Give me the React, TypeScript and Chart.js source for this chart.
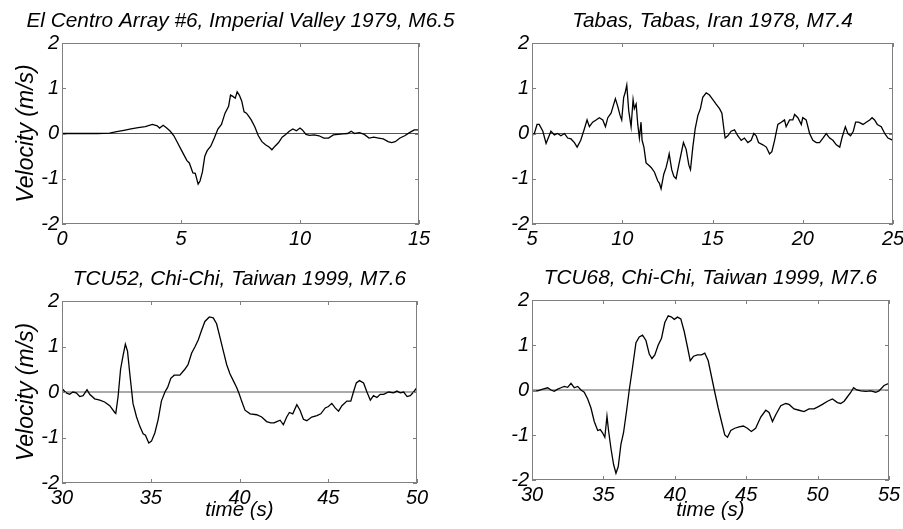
import React, { useEffect, useRef } from "react";
import { Chart, registerables } from "chart.js";

Chart.register(...registerables);

// ---------- data ----------
const titles = [
  "El Centro Array #6, Imperial Valley 1979, M6.5",
  "Tabas, Tabas, Iran 1978, M7.4",
  "TCU52, Chi-Chi, Taiwan 1999, M7.6",
  "TCU68, Chi-Chi, Taiwan 1999, M7.6",
];
const xAxisLabel = "time (s)";
const yAxisLabel = "Velocity (m/s)";
const velocityRange = [-2, 2];
const xRanges = [
  [0, 15],
  [5, 25],
  [30, 50],
  [30, 55],
];

const elCentroTime = [0, 0.5, 1.0, 1.5, 2.0, 2.3, 2.6, 2.9, 3.2, 3.5, 3.8, 4.0, 4.1, 4.25, 4.4, 4.55, 4.7, 4.85, 5.0, 5.1, 5.25, 5.35, 5.5, 5.6, 5.72, 5.8, 5.9, 6.0, 6.1, 6.25, 6.4, 6.55, 6.7, 6.85, 7.0, 7.08, 7.18, 7.28, 7.36, 7.45, 7.55, 7.65, 7.75, 7.85, 7.95, 8.1, 8.25, 8.4, 8.55, 8.7, 8.82, 8.95, 9.1, 9.25, 9.4, 9.55, 9.7, 9.85, 10.0, 10.1, 10.25, 10.4, 10.6, 10.8, 11.0, 11.2, 11.4, 11.6, 11.8, 12.0, 12.15, 12.3, 12.5, 12.7, 12.9, 13.1, 13.3, 13.5, 13.7, 13.85, 14.0, 14.2, 14.4, 14.6, 14.8, 15.0];
const elCentroVel = [0, 0, 0, 0, 0.01, 0.04, 0.07, 0.1, 0.13, 0.15, 0.2, 0.17, 0.12, 0.18, 0.12, 0.05, -0.05, -0.2, -0.35, -0.45, -0.6, -0.65, -0.87, -0.88, -1.12, -1.05, -0.85, -0.5, -0.38, -0.28, -0.1, 0.1, 0.2, 0.45, 0.6, 0.85, 0.82, 0.78, 0.92, 0.85, 0.72, 0.48, 0.45, 0.38, 0.3, 0.15, -0.05, -0.18, -0.25, -0.3, -0.36, -0.28, -0.2, -0.08, -0.02, 0.05, 0.1, 0.06, 0.12, 0.08, -0.02, -0.04, -0.03, -0.05, -0.1, -0.1, -0.03, -0.02, -0.01, 0.0, 0.05, 0.0, 0.02, -0.02, -0.1, -0.08, -0.1, -0.12, -0.18, -0.2, -0.18, -0.1, -0.05, 0.02, 0.08, 0.08];

const tabasTime = [5.0, 5.13, 5.28, 5.4, 5.6, 5.78, 5.9, 6.05, 6.24, 6.42, 6.6, 6.8, 6.98, 7.16, 7.35, 7.5, 7.7, 7.9, 8.05, 8.18, 8.36, 8.55, 8.73, 8.92, 9.07, 9.2, 9.38, 9.62, 9.75, 9.88, 9.97, 10.08, 10.16, 10.25, 10.36, 10.49, 10.6, 10.67, 10.77, 10.86, 10.95, 11.04, 11.1, 11.2, 11.32, 11.47, 11.6, 11.78, 11.97, 12.06, 12.15, 12.3, 12.43, 12.52, 12.6, 12.74, 12.86, 12.98, 13.13, 13.26, 13.39, 13.54, 13.69, 13.78, 13.91, 14.04, 14.19, 14.33, 14.46, 14.65, 14.83, 15.02, 15.2, 15.39, 15.52, 15.63, 15.7, 15.85, 16.03, 16.22, 16.4, 16.59, 16.77, 16.96, 17.14, 17.29, 17.42, 17.55, 17.79, 17.98, 18.16, 18.29, 18.44, 18.62, 18.81, 18.99, 19.08, 19.27, 19.45, 19.55, 19.73, 19.92, 20.0, 20.19, 20.38, 20.56, 20.75, 20.93, 21.12, 21.3, 21.49, 21.67, 21.86, 22.05, 22.17, 22.36, 22.5, 22.65, 22.8, 22.93, 23.1, 23.34, 23.52, 23.71, 23.84, 23.98, 24.13, 24.35, 24.54, 24.72, 25.0];
const tabasVel = [-0.05, 0.0, 0.2, 0.2, 0.05, -0.22, -0.1, 0.05, -0.03, 0.0, -0.05, 0.0, -0.1, -0.12, -0.2, -0.3, -0.15, 0.1, 0.3, 0.15, 0.25, 0.3, 0.35, 0.3, 0.15, 0.35, 0.45, 0.77, 0.6, 0.4, 0.3, 0.8, 0.9, 1.07, 0.5, 0.15, 0.75, 0.55, 0.65, 0.2, -0.1, 0.25, -0.15, -0.3, -0.65, -0.7, -0.75, -0.85, -1.05, -1.1, -1.22, -0.9, -0.75, -0.6, -0.45, -0.8, -0.95, -1.0, -0.7, -0.45, -0.2, -0.35, -0.7, -0.8, -0.3, 0.1, 0.4, 0.55, 0.8, 0.9, 0.85, 0.75, 0.65, 0.55, 0.45, 0.1, -0.1, -0.05, 0.05, 0.08, -0.05, -0.15, -0.1, -0.2, -0.15, 0.0, -0.05, -0.2, -0.25, -0.3, -0.45, -0.4, -0.15, 0.2, 0.25, 0.3, 0.15, 0.3, 0.3, 0.42, 0.35, 0.2, 0.35, 0.3, 0.0, -0.15, -0.2, -0.2, -0.1, 0.0, -0.1, -0.15, -0.25, -0.3, -0.1, 0.15, 0.0, -0.05, 0.05, 0.25, 0.25, 0.2, 0.25, 0.3, 0.35, 0.3, 0.2, 0.15, 0.0, -0.1, -0.15];

const tcu52Time = [30.0, 30.06, 30.24, 30.43, 30.62, 30.8, 31.0, 31.19, 31.41, 31.56, 31.84, 32.13, 32.4, 32.69, 32.97, 33.03, 33.16, 33.3, 33.44, 33.57, 33.69, 33.82, 34.0, 34.2, 34.38, 34.57, 34.7, 34.89, 35.04, 35.23, 35.42, 35.6, 35.8, 35.95, 36.13, 36.32, 36.64, 36.92, 37.1, 37.3, 37.5, 37.68, 37.86, 38.05, 38.3, 38.52, 38.71, 38.9, 39.09, 39.28, 39.46, 39.65, 39.84, 39.99, 40.12, 40.31, 40.6, 40.97, 41.25, 41.53, 41.76, 41.95, 42.1, 42.29, 42.47, 42.66, 42.81, 43.0, 43.23, 43.41, 43.6, 43.79, 44.07, 44.36, 44.58, 44.83, 45.01, 45.2, 45.39, 45.58, 45.77, 46.05, 46.27, 46.42, 46.58, 46.76, 46.99, 47.18, 47.37, 47.55, 47.74, 47.93, 48.12, 48.4, 48.68, 48.87, 49.06, 49.25, 49.44, 49.62, 49.81, 50.0];
const tcu52Vel = [0.0, 0.05, -0.02, -0.05, 0.0, -0.02, -0.1, -0.08, 0.05, -0.05, -0.15, -0.18, -0.22, -0.3, -0.45, -0.47, -0.1, 0.5, 0.8, 1.05, 0.9, 0.4, -0.25, -0.55, -0.75, -0.92, -0.95, -1.12, -1.08, -0.9, -0.6, -0.2, 0.0, 0.1, 0.3, 0.37, 0.37, 0.5, 0.6, 0.85, 1.0, 1.15, 1.35, 1.55, 1.65, 1.63, 1.5, 1.2, 0.9, 0.6, 0.4, 0.25, 0.1, -0.05, -0.2, -0.4, -0.48, -0.5, -0.55, -0.65, -0.68, -0.68, -0.65, -0.62, -0.72, -0.55, -0.45, -0.48, -0.28, -0.4, -0.6, -0.63, -0.55, -0.52, -0.48, -0.35, -0.32, -0.25, -0.35, -0.42, -0.3, -0.2, -0.2, 0.0, 0.2, 0.25, 0.2, 0.0, -0.18, -0.08, -0.12, -0.05, -0.05, 0.0, -0.02, 0.02, -0.02, 0.0, -0.1, -0.08, 0.0, 0.1];

const tcu68Time = [30.0, 30.4, 30.75, 31.1, 31.33, 31.56, 31.8, 32.03, 32.26, 32.5, 32.73, 32.96, 33.2, 33.43, 33.66, 33.9, 34.13, 34.36, 34.6, 34.78, 34.94, 35.1, 35.25, 35.36, 35.53, 35.71, 35.88, 36.04, 36.23, 36.41, 36.65, 36.81, 37.04, 37.28, 37.51, 37.74, 37.98, 38.21, 38.4, 38.6, 38.84, 39.07, 39.3, 39.54, 39.77, 39.96, 40.19, 40.42, 40.66, 40.89, 41.08, 41.31, 41.59, 41.87, 42.1, 42.34, 42.57, 42.8, 43.04, 43.27, 43.5, 43.69, 43.92, 44.2, 44.5, 44.8, 45.08, 45.36, 45.66, 46.02, 46.37, 46.6, 46.84, 47.07, 47.42, 47.77, 48.0, 48.35, 48.7, 49.05, 49.4, 49.75, 49.99, 50.34, 50.69, 51.04, 51.39, 51.62, 51.86, 52.09, 52.33, 52.52, 52.75, 53.03, 53.38, 53.72, 54.07, 54.3, 54.65, 55.0];
const tcu68Vel = [-0.02, -0.02, 0.02, 0.05, 0.0, -0.03, 0.02, 0.05, 0.08, 0.06, 0.15, 0.05, 0.08, 0.0, -0.05, -0.2, -0.4, -0.7, -0.9, -0.88, -0.95, -1.05, -0.58, -0.9, -1.3, -1.65, -1.85, -1.7, -1.2, -0.95, -0.4, 0.0, 0.5, 1.05, 1.18, 1.22, 1.1, 0.8, 0.7, 0.78, 1.0, 1.15, 1.5, 1.65, 1.62, 1.57, 1.62, 1.58, 1.3, 0.95, 0.65, 0.75, 0.78, 0.78, 0.82, 0.65, 0.3, -0.05, -0.4, -0.7, -1.0, -1.05, -0.9, -0.85, -0.82, -0.8, -0.85, -0.92, -0.85, -0.6, -0.45, -0.5, -0.7, -0.55, -0.35, -0.3, -0.32, -0.42, -0.45, -0.48, -0.42, -0.42, -0.38, -0.32, -0.25, -0.2, -0.28, -0.3, -0.25, -0.15, -0.05, 0.05, 0.0, -0.02, -0.03, -0.02, -0.05, -0.02, 0.1, 0.15];

const seriesTimes = [elCentroTime, tabasTime, tcu52Time, tcu68Time];
const seriesVels = [elCentroVel, tabasVel, tcu52Vel, tcu68Vel];

// ---------- layout (positions / styles only) ----------
const FONT = "'Liberation Sans', Arial, Helvetica, sans-serif";
const layouts = [
  { left: 0, top: 0, w: 481, h: 264, area: { l: 62, r: 419, t: 43, b: 224 }, yTitle: true, xTitle: false },
  { left: 451, top: 0, w: 523, h: 264, area: { l: 81, r: 442, t: 43, b: 224 }, yTitle: false, xTitle: false },
  { left: 0, top: 264, w: 479, h: 265, area: { l: 62, r: 417, t: 37, b: 219 }, yTitle: true, xTitle: true },
  { left: 451, top: 264, w: 519, h: 265, area: { l: 81, r: 438, t: 36, b: 216 }, yTitle: false, xTitle: true },
];

// MATLAB-like frame, inward ticks on all four sides, and a centred panel title
const framePlugin = {
  id: "matlabFrame",
  afterDatasetsDraw(chart: any, _args: any, opts: any) {
    const { ctx, chartArea: a, scales } = chart;
    ctx.save();
    ctx.strokeStyle = "#7f7f7f";
    ctx.lineWidth = 1;
    ctx.strokeRect(a.left + 0.5, a.top + 0.5, a.right - a.left - 1, a.bottom - a.top - 1);
    const tl = 4;
    ctx.beginPath();
    scales.x.ticks.forEach((t: any) => {
      const px = Math.round(scales.x.getPixelForValue(t.value)) + 0.5;
      ctx.moveTo(px, a.top);
      ctx.lineTo(px, a.top + tl);
      ctx.moveTo(px, a.bottom);
      ctx.lineTo(px, a.bottom - tl);
    });
    scales.y.ticks.forEach((t: any) => {
      const py = Math.round(scales.y.getPixelForValue(t.value)) + 0.5;
      ctx.moveTo(a.left, py);
      ctx.lineTo(a.left + tl, py);
      ctx.moveTo(a.right, py);
      ctx.lineTo(a.right - tl, py);
    });
    ctx.stroke();
    if (opts && opts.text) {
      ctx.fillStyle = "#000";
      ctx.font = "italic 20.8px " + FONT;
      ctx.textAlign = "center";
      ctx.textBaseline = "alphabetic";
      ctx.fillText(opts.text, (a.left + a.right) / 2, a.top - 16);
    }
    ctx.restore();
  },
};

function Panel({ idx }: { idx: number }) {
  const ref = useRef<HTMLCanvasElement>(null);
  const L = layouts[idx];
  useEffect(() => {
    const [xMin, xMax] = xRanges[idx];
    const times = seriesTimes[idx];
    const vels = seriesVels[idx];
    const data = times.map((t, i) => ({ x: t, y: vels[i] }));
    const tickFont = { family: FONT, size: 20, style: "italic" as const, weight: "normal" as const, lineHeight: 1.2 };
    const xTitleFont = { family: FONT, size: 20.5, style: "italic" as const, weight: "normal" as const, lineHeight: 1.2 };
    const yTitleFont = { family: FONT, size: 23, style: "italic" as const, weight: "normal" as const, lineHeight: 1.2 };
    const chart = new Chart(ref.current!, {
      type: "line",
      data: {
        datasets: [
          { data, borderColor: "#000", borderWidth: 1.3, pointRadius: 0, tension: 0, fill: false },
          {
            data: [
              { x: xMin, y: 0 },
              { x: xMax, y: 0 },
            ],
            borderColor: "#555",
            borderWidth: 1,
            pointRadius: 0,
            fill: false,
          },
        ],
      },
      plugins: [framePlugin],
      options: {
        animation: false,
        responsive: false,
        devicePixelRatio: 1,
        layout: { padding: { left: 0, top: L.area.t, bottom: 0, right: L.w - L.area.r } },
        plugins: {
          legend: { display: false },
          tooltip: { enabled: false },
          title: { display: false },
          matlabFrame: { text: titles[idx] },
        } as any,
        scales: {
          x: {
            type: "linear",
            min: xMin,
            max: xMax,
            grid: { display: false, drawTicks: false, tickLength: 0 },
            border: { display: false },
            ticks: { stepSize: 5, color: "#000", font: tickFont, padding: 3, maxRotation: 0, autoSkip: false },
            title: {
              display: L.xTitle,
              text: xAxisLabel,
              color: "#000",
              font: xTitleFont,
              padding: { top: 0, bottom: 6.5 },
            },
            afterFit: (s: any) => {
              s.height = L.h - L.area.b;
              s.paddingLeft = 0;
              s.paddingRight = 0;
            },
          },
          y: {
            type: "linear",
            min: velocityRange[0],
            max: velocityRange[1],
            grid: { display: false, drawTicks: false, tickLength: 0 },
            border: { display: false },
            ticks: { stepSize: 1, color: "#000", font: tickFont, padding: 3 },
            title: {
              display: L.yTitle,
              text: yAxisLabel,
              color: "#000",
              font: yTitleFont,
              padding: { top: 13, bottom: 0 },
            },
            afterFit: (s: any) => {
              s.width = L.area.l;
              s.paddingTop = 0;
              s.paddingBottom = 0;
            },
          },
        },
      },
    });
    return () => chart.destroy();
  }, [idx]);
  return (
    <canvas
      ref={ref}
      width={L.w}
      height={L.h}
      style={{ position: "absolute", left: L.left, top: L.top, width: L.w, height: L.h }}
    />
  );
}

export default function App() {
  return (
    <div
      style={{
        position: "fixed",
        left: 0,
        top: 0,
        width: 903,
        height: 529,
        overflow: "hidden",
        background: "#fff",
      }}
    >
      {[0, 1, 2, 3].map((i) => (
        <Panel key={i} idx={i} />
      ))}
    </div>
  );
}
